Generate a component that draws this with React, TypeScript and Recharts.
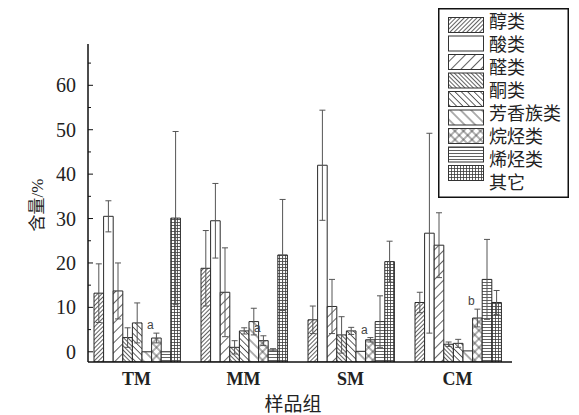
import React from 'react';
import { BarChart, Bar, XAxis, YAxis, ErrorBar, Legend, LabelList } from 'recharts';

const CATEGORIES = ['TM', 'MM', 'SM', 'CM'];

const ALCOHOLS = [13.2, 18.8, 7.2, 11.1];
const ALCOHOLS_ERR = [6.6, 8.5, 3.1, 2.3];
const ACIDS = [30.5, 29.5, 42.0, 26.7];
const ACIDS_ERR = [3.5, 8.4, 12.4, 22.5];
const ALDEHYDES = [13.7, 13.4, 10.2, 24.0];
const ALDEHYDES_ERR = [6.3, 10.0, 6.1, 7.3];
const KETONES = [3.2, 1.0, 3.8, 1.7];
const KETONES_ERR = [2.2, 1.5, 4.1, 0.5];
const AROMATICS = [6.5, 4.7, 4.7, 1.9];
const AROMATICS_ERR = [4.5, 0.7, 0.8, 0.9];
const UNLABELED = [0.0, 6.8, 0.1, 0.2];
const UNLABELED_ERR = [0, 3.0, 0, 0];
const ALKANES = [3.1, 2.5, 2.7, 7.6];
const ALKANES_ERR = [1.1, 1.1, 0.5, 2.0];
const ALKENES = [0.0, 0.4, 6.8, 16.3];
const ALKENES_ERR = [0, 0.3, 5.8, 9.0];
const OTHERS = [30.1, 21.8, 20.3, 11.1];
const OTHERS_ERR = [19.5, 12.5, 4.6, 2.7];

const ALKANE_MARKS = ['a', 'a', 'a', 'b'];
const LEGEND_LABELS = ['醇类', '酸类', '醛类', '酮类', '芳香族类', '烷烃类', '烯烃类', '其它'];
const Y_TICKS = [0, 5, 10, 15, 20, 25, 30, 35, 40, 45, 50, 55, 60, 65];
const AXIS_MIN = -2.3;
const AXIS_MAX = 69.3;

const SERIES = [
  { key: 'alcohols', values: ALCOHOLS, errors: ALCOHOLS_ERR, pattern: 'alcohols' },
  { key: 'acids', values: ACIDS, errors: ACIDS_ERR, pattern: 'acids' },
  { key: 'aldehydes', values: ALDEHYDES, errors: ALDEHYDES_ERR, pattern: 'aldehydes' },
  { key: 'ketones', values: KETONES, errors: KETONES_ERR, pattern: 'ketones' },
  { key: 'aromatics', values: AROMATICS, errors: AROMATICS_ERR, pattern: 'aromatics' },
  { key: 'unlabeled', values: UNLABELED, errors: UNLABELED_ERR, pattern: 'unlabeled' },
  { key: 'alkanes', values: ALKANES, errors: ALKANES_ERR, pattern: 'alkanes' },
  { key: 'alkenes', values: ALKENES, errors: ALKENES_ERR, pattern: 'alkenes' },
  { key: 'others', values: OTHERS, errors: OTHERS_ERR, pattern: 'others' },
];

const data = CATEGORIES.map((c, i) => {
  const row: any = { category: c, mark: ALKANE_MARKS[i] };
  SERIES.forEach((s) => {
    row[s.key] = s.values[i];
    row[s.key + 'Err'] = s.errors[i];
  });
  return row;
});

const SERIF = '"Liberation Serif", "Times New Roman", serif';
const CJK = '"Liberation Serif", "Noto Sans CJK SC", sans-serif';
const HATCH = '#3a3a3a';
const HW = 0.8;

function Patterns({ prefix }: { prefix: string }) {
  const id = (n: string) => `${prefix}-${n}`;
  return (
    <defs>
      <pattern id={id('alcohols')} patternUnits="userSpaceOnUse" width={3} height={3} patternTransform="rotate(45)">
        <rect width={3} height={3} fill="#fff" />
        <line x1={1.5} y1={0} x2={1.5} y2={3} stroke={HATCH} strokeWidth={HW} />
      </pattern>
      <pattern id={id('acids')} patternUnits="userSpaceOnUse" width={4} height={4}>
        <rect width={4} height={4} fill="#fff" />
      </pattern>
      <pattern id={id('aldehydes')} patternUnits="userSpaceOnUse" width={7} height={7} patternTransform="rotate(45)">
        <rect width={7} height={7} fill="#fff" />
        <line x1={3.5} y1={0} x2={3.5} y2={7} stroke={HATCH} strokeWidth={HW} />
      </pattern>
      <pattern id={id('ketones')} patternUnits="userSpaceOnUse" width={3} height={3} patternTransform="rotate(-45)">
        <rect width={3} height={3} fill="#fff" />
        <line x1={1.5} y1={0} x2={1.5} y2={3} stroke={HATCH} strokeWidth={HW} />
      </pattern>
      <pattern id={id('aromatics')} patternUnits="userSpaceOnUse" width={4.5} height={4.5} patternTransform="rotate(-45)">
        <rect width={4.5} height={4.5} fill="#fff" />
        <line x1={2.25} y1={0} x2={2.25} y2={4.5} stroke={HATCH} strokeWidth={HW} />
      </pattern>
      <pattern id={id('unlabeled')} patternUnits="userSpaceOnUse" width={7.5} height={7.5} patternTransform="rotate(-45)">
        <rect width={7.5} height={7.5} fill="#fff" />
        <line x1={3.75} y1={0} x2={3.75} y2={7.5} stroke={HATCH} strokeWidth={HW} />
      </pattern>
      <pattern id={id('alkanes')} patternUnits="userSpaceOnUse" width={6} height={6} patternTransform="rotate(45)">
        <rect width={6} height={6} fill="#fff" />
        <line x1={3} y1={0} x2={3} y2={6} stroke={HATCH} strokeWidth={HW} />
        <line x1={0} y1={3} x2={6} y2={3} stroke={HATCH} strokeWidth={HW} />
      </pattern>
      <pattern id={id('alkenes')} patternUnits="userSpaceOnUse" width={3} height={3}>
        <rect width={3} height={3} fill="#fff" />
        <line x1={0} y1={1.5} x2={3} y2={1.5} stroke={HATCH} strokeWidth={HW} />
      </pattern>
      <pattern id={id('others')} patternUnits="userSpaceOnUse" width={3} height={3}>
        <rect width={3} height={3} fill="#fff" />
        <line x1={0} y1={1.5} x2={3} y2={1.5} stroke={HATCH} strokeWidth={HW} />
        <line x1={1.5} y1={0} x2={1.5} y2={3} stroke={HATCH} strokeWidth={HW} />
      </pattern>
    </defs>
  );
}

const YTick = (props: any) => {
  const { x, y, payload } = props;
  const major = payload.value % 10 === 0;
  return (
    <g>
      <line x1={x} y1={y} x2={x + (major ? 5 : 3)} y2={y} stroke="#111" strokeWidth={1} />
      {major && (
        <text x={x - 12} y={y} textAnchor="end" dominantBaseline="central" fontSize={20} fontFamily={SERIF} fill="#222">
          {payload.value}
        </text>
      )}
    </g>
  );
};

const XTick = (props: any) => {
  const { x, y, payload } = props;
  return (
    <text x={x - 1} y={y + 23} textAnchor="middle" fontSize={18} fontWeight="bold" fontFamily={SERIF} fill="#222">
      {payload.value}
    </text>
  );
};

const XTitle = (props: any) => {
  const vb = props.viewBox || {};
  return (
    <text x={vb.x + vb.width / 2 - 7} y={vb.y + vb.height - 4} textAnchor="middle" fontSize={19} fontFamily={CJK} fill="#222">
      样品组
    </text>
  );
};

const YTitle = (props: any) => {
  const vb = props.viewBox || {};
  const cx = vb.x + 29;
  const cy = vb.y + vb.height / 2 + 2;
  return (
    <text x={cx} y={cy} transform={`rotate(-90, ${cx}, ${cy})`} textAnchor="middle" dominantBaseline="central" fontSize={17} fontFamily={CJK} fill="#222">
      含量/%
    </text>
  );
};

const MarkLabel = (props: any) => {
  const { x, y, width, height, index } = props;
  const row = data[index];
  if (!row || !row.mark) return null;
  const k = height / (row.alkanes - AXIS_MIN);
  const errTop = y - row.alkanesErr * k;
  return (
    <text x={x + width / 2 - 6} y={errTop - 4} textAnchor="middle" fontSize={12} fontFamily='"Liberation Sans", Arial, sans-serif' fill="#444">
      {row.mark}
    </text>
  );
};

const renderLegend = () => (
  <svg width={131} height={190} style={{ display: 'block' }}>
    <Patterns prefix="lg" />
    <rect x={0.75} y={0.75} width={129.5} height={188.5} fill="#fff" stroke="#111" strokeWidth={1.5} />
    {SERIES.map((s, i) => (
      <rect key={s.key} x={10.5} y={9.5 + i * 18.5} width={35} height={15} fill={`url(#lg-${s.pattern})`} stroke="#333" strokeWidth={1} />
    ))}
    {LEGEND_LABELS.map((l, i) => (
      <text key={l} x={51} y={14 + i * 23} dominantBaseline="central" fontSize={18} fontFamily={CJK} fill="#222">
        {l}
      </text>
    ))}
  </svg>
);

export default function App() {
  return (
    <div style={{ width: 571, height: 407 }}>
      <BarChart
        width={571}
        height={407}
        data={data}
        margin={{ top: 36, right: 67, bottom: 0, left: 0 }}
        barGap={0}
        barSize={9.6}
      >
        <Patterns prefix="ch" />
        <XAxis
          dataKey="category"
          height={53}
          padding={{ left: -4, right: 0 }}
          axisLine={{ stroke: '#111', strokeWidth: 1.5 }}
          tickLine={false}
          tickSize={0}
          tickMargin={0}
          tick={<XTick />}
          interval={0}
          label={<XTitle />}
        />
        <YAxis
          type="number"
          width={80}
          domain={[AXIS_MIN, AXIS_MAX]}
          ticks={Y_TICKS}
          allowDataOverflow
          axisLine={{ stroke: '#111', strokeWidth: 1.5 }}
          tickLine={false}
          tickSize={0}
          tickMargin={0}
          tick={<YTick />}
          interval={0}
          label={<YTitle />}
        />
        <Legend
          layout="vertical"
          align="center"
          verticalAlign="middle"
          content={renderLegend}
          wrapperStyle={{ position: 'absolute', left: 430, top: 0, width: 131, height: 190 }}
        />
        {SERIES.map((s) => (
          <Bar
            key={s.key}
            dataKey={(d: any) => [AXIS_MIN, d[s.key]]}
            fill={`url(#ch-${s.pattern})`}
            stroke="#2a2a2a"
            strokeWidth={1}
            isAnimationActive={false}
          >
            <ErrorBar dataKey={s.key + 'Err'} width={3} stroke="#555" strokeWidth={1} direction="y" />
            {s.key === 'alkanes' && <LabelList dataKey="mark" content={<MarkLabel />} />}
          </Bar>
        ))}
      </BarChart>
    </div>
  );
}
